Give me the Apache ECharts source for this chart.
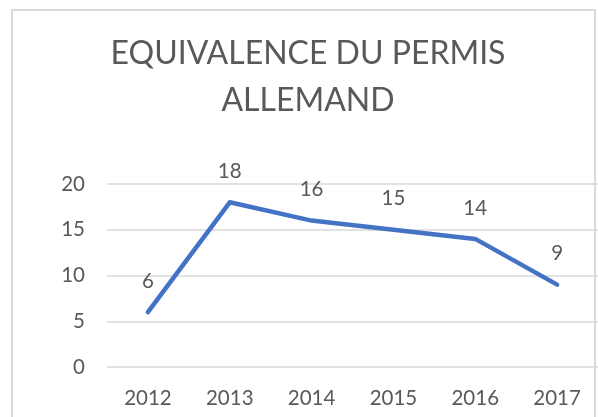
<!DOCTYPE html>
<html lang="fr">
<head>
    <meta charset="UTF-8">
    <title>Equivalence du permis allemand</title>
    <script src="https://cdn.jsdelivr.net/npm/echarts@6/dist/echarts.min.js"></script>
    <style>
        body { margin: 0; padding: 0; background: #fff; }
    </style>
</head>
<body>
    <div id="chart" style="width: 598px; height: 417px;"></div>
    <script>
        var annees = ["2012", "2013", "2014", "2015", "2016", "2017"];
        var valeurs = [6, 18, 16, 15, 14, 9];
        var titre = "EQUIVALENCE DU PERMIS\nALLEMAND";

        var police = "Lato, 'Open Sans', sans-serif";
        var gris = "#595959";

        var chart = echarts.init(document.getElementById("chart"));
        var options = {
            animation: false,
            backgroundColor: "#fff",
            title: {
                text: titre,
                left: 303,
                top: 25,
                textAlign: "center",
                textStyle: {
                    fontFamily: police,
                    fontSize: 32,
                    fontWeight: "normal",
                    color: gris,
                    lineHeight: 47
                }
            },
            graphic: [{
                type: "rect",
                shape: { x: 12, y: 10, width: 583, height: 430 },
                style: { fill: "none", stroke: "#d9d9d9", lineWidth: 2 },
                z: 100
            }],
            grid: {
                left: 107,
                right: 0,
                top: 184,
                bottom: 50
            },
            xAxis: {
                type: "category",
                data: annees,
                axisLine: { show: false },
                axisTick: { show: false },
                axisLabel: {
                    fontFamily: police,
                    fontSize: 20.5,
                    color: gris,
                    margin: 21
                }
            },
            yAxis: {
                type: "value",
                min: 0,
                max: 20,
                interval: 5,
                axisLine: { show: false },
                axisTick: { show: false },
                axisLabel: {
                    fontFamily: police,
                    fontSize: 20.5,
                    color: gris,
                    margin: 22
                },
                splitLine: { lineStyle: { color: "#d9d9d9", width: 1.5 } }
            },
            series: [{
                type: "line",
                data: valeurs,
                showSymbol: true,
                symbol: "circle",
                symbolSize: 1,
                itemStyle: { color: "#4472C4" },
                lineStyle: { color: "#4472C4", width: 4.5, cap: "round", join: "round" },
                label: {
                    show: true,
                    position: "top",
                    distance: 20,
                    fontFamily: police,
                    fontSize: 20.5,
                    color: gris
                }
            }]
        };
        chart.setOption(options);
    </script>
</body>
</html>
